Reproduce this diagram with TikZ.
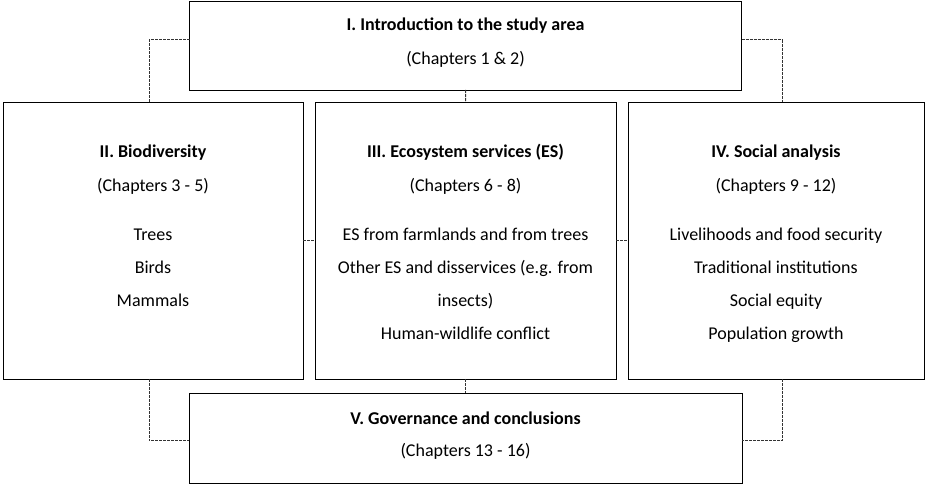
\documentclass[tikz,border=0pt]{standalone}
\usepackage{fontspec}
\setmainfont{Carlito}
\usepackage{tikz}

\tikzset{
  part/.style={draw,line width=0.9pt,inner sep=0pt,outer sep=0pt},
  link/.style={black!80,line width=1pt,dash pattern=on 3pt off 1pt},
  txt/.style={anchor=base,inner sep=0pt,font=\fontsize{18}{22}\selectfont},
  head/.style={txt,font=\fontsize{18}{22}\selectfont\bfseries}
}

\begin{document}
\begin{tikzpicture}[x=1pt,y=1pt]
  \useasboundingbox (0,0) rectangle (927,485);
  \node[part,minimum width=552,minimum height=89] (intro) at (465.6,439.5) {};
  \node[part,minimum width=300,minimum height=277] (bio) at (153,244.5) {};
  \node[part,minimum width=301,minimum height=277] (es) at (465.5,244.5) {};
  \node[part,minimum width=296,minimum height=277] (social) at (776,244.5) {};
  \node[part,minimum width=553,minimum height=90] (gov) at (465.5,47) {};

  \node[head] (intro-t) at (465.5,454) {I. Introduction to the study area};
  \node[txt] (intro-c) at (465.5,420) {(Chapters 1 \& 2)};
  \node[head] (bio-t) at (153,327) {II. Biodiversity};
  \node[txt] (bio-c) at (153,293) {(Chapters 3 - 5)};
  \node[head] (es-t) at (465.5,327) {III. Ecosystem services (ES)};
  \node[txt] (es-c) at (465.5,293) {(Chapters 6 - 8)};
  \node[head] (social-t) at (776,327) {IV. Social analysis};
  \node[txt] (social-c) at (776,293) {(Chapters 9 - 12)};
  \node[head] (gov-t) at (465.5,60) {V. Governance and conclusions};
  \node[txt] (gov-c) at (465.5,28) {(Chapters 13 - 16)};

  \foreach \t [count=\i] in {Trees,Birds,Mammals}
    \node[txt] (bio-\i) at (153,277-33*\i) {\t};
  \foreach \t [count=\i] in {ES from farmlands and from trees,Other ES and disservices (e.g. from,insects),Human-wildlife conflict}
    \node[txt] (es-\i) at (465.5,277-33*\i) {\t};
  \foreach \t [count=\i] in {Livelihoods and food security,Traditional institutions,Social equity,Population growth}
    \node[txt] (social-\i) at (776,277-33*\i) {\t};

  \draw[link] ([yshift=5.5pt]intro.west) -| ([xshift=-4pt]bio.north);
  \draw[link] ([yshift=5.5pt]intro.east) -| ([xshift=6pt]social.north);
  \draw[link] (intro.south) -- (es.north);
  \draw[link] (bio.east) -- (es.west);
  \draw[link] (es.east) -- (social.west);
  \draw[link] (es.south) -- (gov.north);
  \draw[link] ([xshift=-4pt]bio.south) |- ([yshift=-3pt]gov.west);
  \draw[link] ([xshift=6pt]social.south) |- ([yshift=-3pt]gov.east);
\end{tikzpicture}
\end{document}
